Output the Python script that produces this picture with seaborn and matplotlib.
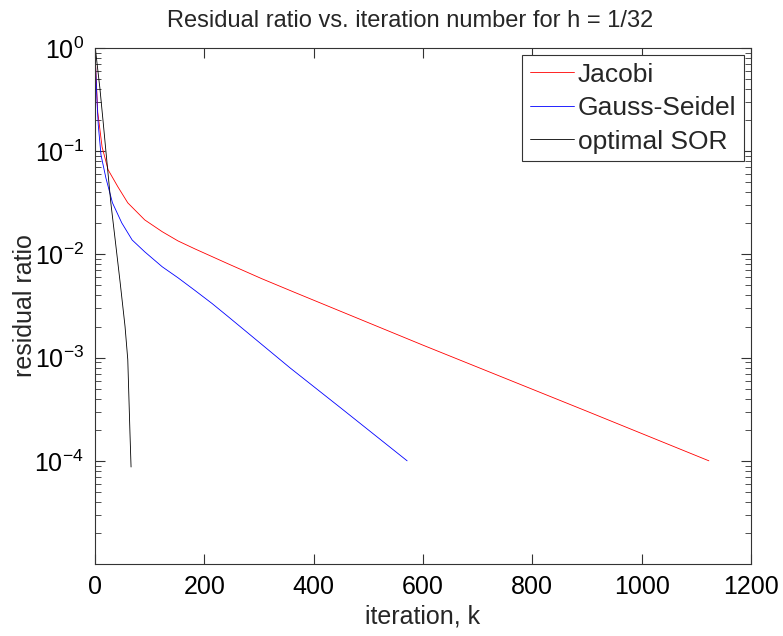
import numpy as np
import pandas as pd
import matplotlib
matplotlib.use("Agg")
import matplotlib.pyplot as plt
import matplotlib.ticker as mticker
import seaborn as sns

# values (iteration k, residual ratio)
jacobi_k = [1, 5, 13, 24, 42, 60, 91, 123, 152, 183, 243, 305, 366, 600, 900, 1123]
jacobi_r = [0.716, 0.240, 0.110, 0.0661, 0.0451, 0.0316, 0.0216, 0.0166, 0.0135,
            0.0113, 0.00813, 0.00582, 0.00427, 0.00132, 0.000302, 0.0001]

gs_k = [1, 4, 6, 11, 20, 32, 49, 68, 91, 123, 152, 183, 214, 243, 284, 357, 450, 571]
gs_r = [0.684, 0.282, 0.180, 0.092, 0.055, 0.0316, 0.0202, 0.0138, 0.0106, 0.00759,
        0.00593, 0.00447, 0.00335, 0.00251, 0.00166, 0.000794, 0.000324, 0.0001]

sor_k = [1, 9, 15, 20, 29, 37, 46, 55, 60, 64, 66]
sor_r = [0.955, 0.407, 0.191, 0.100, 0.0316, 0.0138, 0.00537, 0.00200, 0.000955,
         0.000186, 0.0000871]

methods = ["Jacobi", "Gauss-Seidel", "optimal SOR"]
colors = ["#ff0000", "#0000ff", "#000000"]

df = pd.concat([
    pd.DataFrame({"k": jacobi_k, "ratio": jacobi_r, "method": methods[0]}),
    pd.DataFrame({"k": gs_k, "ratio": gs_r, "method": methods[1]}),
    pd.DataFrame({"k": sor_k, "ratio": sor_r, "method": methods[2]}),
])

sns.set_style("ticks")
plt.rcParams["font.family"] = ["Liberation Sans", "DejaVu Sans"]
plt.rcParams["axes.unicode_minus"] = False
plt.rcParams["mathtext.fontset"] = "custom"
plt.rcParams["mathtext.rm"] = "Liberation Sans"
plt.rcParams["mathtext.it"] = "Liberation Sans"

fig = plt.figure(figsize=(7.83, 6.36), dpi=100)
ax = fig.add_axes([0.1213, 0.1132, 0.8378, 0.8113])

sns.lineplot(data=df, x="k", y="ratio", hue="method", hue_order=methods,
             palette=colors, estimator=None, sort=False, linewidth=0.6,
             legend=False, ax=ax)

ax.set_yscale("log")
ax.set_xlim(0, 1200)
ax.set_ylim(1e-5, 1)
ax.set_xticks([0, 200, 400, 600, 800, 1000, 1200])
ax.set_yticks([1e-4, 1e-3, 1e-2, 1e-1, 1e0])
ax.yaxis.set_minor_locator(mticker.LogLocator(base=10, subs=np.arange(2, 10)))
ax.yaxis.set_minor_formatter(mticker.NullFormatter())

for s in ax.spines.values():
    s.set_color("#333333")
    s.set_linewidth(0.8)
ax.tick_params(which="both", direction="in", top=True, right=True,
               color="#333333", labelsize=18, labelcolor="black")
ax.tick_params(which="major", length=7, width=0.8, pad=8)
ax.tick_params(which="minor", length=4, width=0.6)

ax.set_xlabel("iteration, k", fontsize=18, labelpad=4)
ax.set_ylabel("residual ratio", fontsize=18, labelpad=-2)
ax.set_title("Residual ratio vs. iteration number for h = 1/32",
             fontsize=17, pad=15, x=0.48)

leg = ax.legend(ax.get_lines()[:3], methods, loc="upper right", fontsize=19,
                frameon=True, fancybox=False, edgecolor="#333333",
                handlelength=1.67, handletextpad=0.15, labelspacing=0.36,
                borderpad=0.3, borderaxespad=0.25)
leg.get_frame().set_linewidth(0.8)
leg.get_frame().set_alpha(1)

fig.savefig("out.png", dpi=100)
